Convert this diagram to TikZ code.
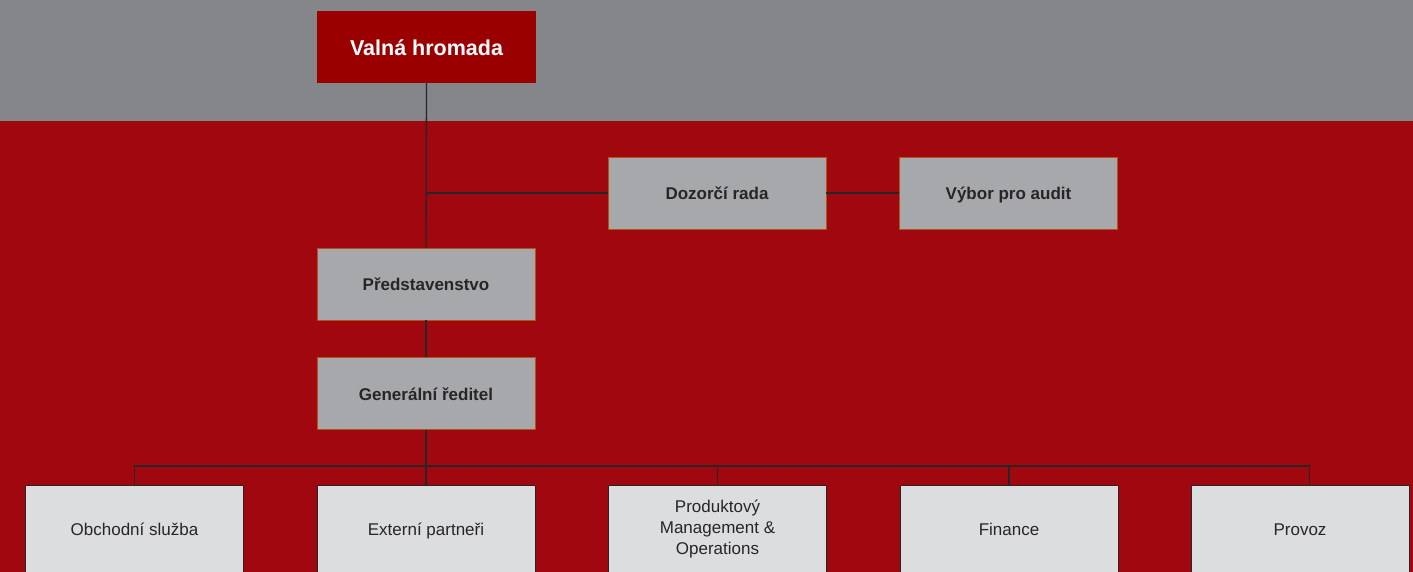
\documentclass[tikz,border=0pt]{standalone}
\usepackage{fontspec}
\setmainfont{Liberation Sans}
\definecolor{bandgray}{HTML}{858689}
\definecolor{bgred}{HTML}{A0070E}
\definecolor{topred}{HTML}{9B0000}
\definecolor{boxgray}{HTML}{A7A8AC}
\definecolor{boxlight}{HTML}{DCDDDF}
\definecolor{edgeorange}{HTML}{B0551A}
\definecolor{linedark}{HTML}{262626}
\newcommand{\mystrut}{\rule[-0.14em]{0pt}{1.1em}}
\tikzset{
  topbox/.style={fill=topred, draw=none, minimum width=219pt, minimum height=72pt, inner sep=0pt, text=white, font=\fontsize{21.5}{25}\selectfont\bfseries, execute at begin node=\mystrut},
  midbox/.style={fill=boxgray, draw=edgeorange, line width=0.8pt, minimum width=218pt, minimum height=72pt, inner sep=0pt, text=linedark, font=\fontsize{17}{20}\selectfont\bfseries, execute at begin node=\mystrut},
  lowbox/.style={fill=boxlight, draw=linedark, line width=1pt, minimum width=218pt, minimum height=88pt, inner sep=0pt, text=linedark, align=center, font=\fontsize{17}{21}\selectfont, execute at begin node=\mystrut},
  conn/.style={draw=linedark, line width=1.3pt}
}
\begin{document}
\begin{tikzpicture}[x=1pt,y=-1pt]
\useasboundingbox (0,0) rectangle (1413,572);
\clip (0,0) rectangle (1413,572);
\fill[bgred] (0,0) rectangle (1413,572);
\fill[bandgray] (0,0) rectangle (1413,121);
% nodes
\node[topbox] (vh) at (426.5,47) {Valná hromada};
\node[midbox] (dr) at (717,193) {Dozorčí rada};
\node[midbox] (va) at (1008.5,193) {Výbor pro audit};
\node[midbox] (pr) at (426,284) {Představenstvo};
\node[midbox] (gr) at (426,393.5) {Generální ředitel};
\node[lowbox] (os) at (134.5,529) {Obchodní služba};
\node[lowbox] (ep) at (426,529) {Externí partneři};
\node[lowbox] (pm) at (717.5,529) {Produktový\\Management \&\\Operations};
\node[lowbox] (fi) at (1009,529) {Finance};
\node[lowbox] (pv) at (1300,529) {Provoz};
% connectors
\coordinate (j1) at (426,193);
\coordinate (bus) at (426,466);
\coordinate (pvin) at (1309.5,485);
\draw[conn] (vh.south) -- (pr.north);
\draw[conn] (j1) -- (dr.west);
\draw[conn] (dr.east) -- (va.west);
\draw[conn] (pr.south) -- (gr.north);
\draw[conn] (gr.south) -- (ep.north);
\draw[conn] (os.north) |- (bus) -| (pvin);
\draw[conn] (bus -| pm.north) -- (pm.north);
\draw[conn] (bus -| fi.north) -- (fi.north);
\end{tikzpicture}
\end{document}
